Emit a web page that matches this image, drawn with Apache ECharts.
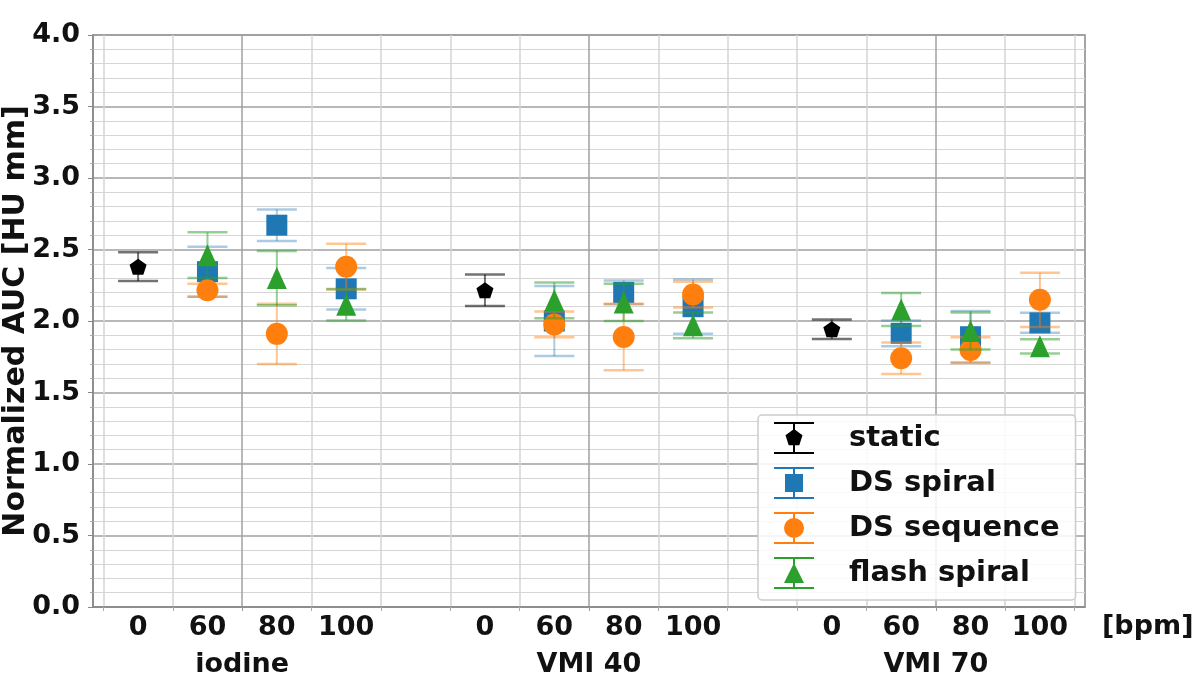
<!DOCTYPE html>
<html>
<head>
<meta charset="utf-8">
<script src="https://cdn.jsdelivr.net/npm/echarts@6/dist/echarts.min.js"></script>
<style>html,body{margin:0;padding:0;background:#fff;}#c{width:1200px;height:689px;}</style>
</head>
<body>
<div id="c"></div>
<script>
// ---- data ----
const groups = ['iodine', 'VMI 40', 'VMI 70'];
const bpmLabels = ['0', '60', '80', '100'];
const motionBpm = ['60', '80', '100'];
const yTicks = [0, 0.5, 1, 1.5, 2, 2.5, 3, 3.5, 4];

// static phantom (0 bpm) per group
const staticVal = [2.38, 2.215, 1.943];
const staticErr = [0.10, 0.11, 0.068];

// per group: 60, 80, 100 bpm
const dsSpiralVal = [2.345, 2.67, 2.225, 2.00, 2.20, 2.10, 1.914, 1.89, 1.987];
const dsSpiralErr = [0.175, 0.11, 0.145, 0.245, 0.083, 0.19, 0.09, 0.18, 0.07];

const dsSeqVal = [2.215, 1.91, 2.38, 1.976, 1.888, 2.185, 1.74, 1.797, 2.148];
const dsSeqErr = [0.045, 0.21, 0.16, 0.09, 0.232, 0.09, 0.11, 0.09, 0.19];

const flashVal = [2.46, 2.30, 2.114, 2.145, 2.13, 1.97, 2.08, 1.93, 1.823];
const flashErr = [0.16, 0.19, 0.11, 0.125, 0.13, 0.09, 0.115, 0.13, 0.05];

// ---- positions on the x axis (group g, bpm index j) ----
const slot = (g, j) => g * 5 + j + 1;
const staticData = staticVal.map((v, g) => [slot(g, 0), v, staticErr[g]]);
const motionData = (vals, errs) => vals.map((v, i) => [slot(Math.floor(i / 3), (i % 3) + 1), v, errs[i]]);

const labelPos = [];
groups.forEach((g, gi) => bpmLabels.forEach((b, j) => labelPos.push(slot(gi, j))));
const groupPos = groups.map((g, gi) => slot(gi, 0) + 1.5);
const gridPos = [];
for (let k = 0; k < 15; k++) gridPos.push(k + 0.5);
const gridMinor = gridPos.filter(v => groupPos.indexOf(v) < 0);

const FONT = 'DejaVu Sans';

function errRender(color) {
  return function (params, api) {
    const x = api.value(0), y = api.value(1), e = api.value(2);
    const top = api.coord([x, y + e]);
    const bot = api.coord([x, y - e]);
    const hw = 20;
    return {
      type: 'group',
      children: [
        { type: 'line', shape: { x1: top[0], y1: top[1], x2: bot[0], y2: bot[1] }, style: { stroke: color, lineWidth: 2 } },
        { type: 'line', shape: { x1: top[0] - hw, y1: top[1], x2: top[0] + hw, y2: top[1] }, style: { stroke: color, lineWidth: 2.5 } },
        { type: 'line', shape: { x1: bot[0] - hw, y1: bot[1], x2: bot[0] + hw, y2: bot[1] }, style: { stroke: color, lineWidth: 2.5 } }
      ]
    };
  };
}

const seriesDefs = [
  { name: 'static', data: staticData, color: '#000000', ecolor: 'rgba(0,0,0,0.55)',
    symbol: 'path://M20 8 L27.61 13.53 L24.70 22.47 L15.30 22.47 L12.39 13.53 Z', size: [17, 16],
    icon: 'path://M0 0 H40 V2 H0 Z M0 30 H40 V32 H0 Z M19 2 H21 V30 H19 Z M20 7 L28.5 13.2 L25.3 23.2 L14.7 23.2 L11.5 13.2 Z' },
  { name: 'DS spiral', data: motionData(dsSpiralVal, dsSpiralErr), color: '#1f77b4', ecolor: 'rgba(31,119,180,0.38)',
    symbol: 'rect', size: 21,
    icon: 'path://M0 0 H40 V2 H0 Z M0 30 H40 V32 H0 Z M19 2 H21 V30 H19 Z M11 7 H29 V25 H11 Z' },
  { name: 'DS sequence', data: motionData(dsSeqVal, dsSeqErr), color: '#ff7f0e', ecolor: 'rgba(255,127,14,0.45)',
    symbol: 'circle', size: 22,
    icon: 'path://M0 0 H40 V2 H0 Z M0 30 H40 V32 H0 Z M19 2 H21 V30 H19 Z M30 16 A10 10 0 1 1 10 16 A10 10 0 1 1 30 16 Z' },
  { name: 'flash spiral', data: motionData(flashVal, flashErr), color: '#2ca02c', ecolor: 'rgba(44,160,44,0.5)',
    symbol: 'triangle', size: [20, 22],
    icon: 'path://M0 0 H40 V2 H0 Z M0 30 H40 V32 H0 Z M19 2 H21 V30 H19 Z M20 6 L30 26 L10 26 Z' }
];

const series = [];
seriesDefs.forEach((s, i) => {
  series.push({
    name: s.name + ' error', type: 'custom', xAxisIndex: 0, yAxisIndex: 0,
    renderItem: errRender(s.ecolor), data: s.data, encode: { x: 0, y: 1 },
    z: 10 + i * 2, silent: true
  });
  series.push({
    name: s.name, type: 'scatter', xAxisIndex: 0, yAxisIndex: 0,
    data: s.data.map(d => [d[0], d[1]]), symbol: s.symbol, symbolSize: s.size,
    itemStyle: { color: s.color, opacity: 1 }, z: 11 + i * 2
  });
});

const chart = echarts.init(document.getElementById('c'), null, { renderer: 'canvas' });
chart.setOption({
  animation: false,
  backgroundColor: '#ffffff',
  grid: { left: 93, right: 115, top: 35, bottom: 82, show: true, borderColor: '#888', borderWidth: 1.5,
    containLabel: false, outerBoundsMode: 'none' },
  legend: {
    orient: 'vertical', left: 758, top: 415,
    padding: [7, 16, 11, 16], itemGap: 13, itemWidth: 40, itemHeight: 32,
    backgroundColor: 'rgba(255,255,255,0.85)', borderColor: '#cccccc', borderWidth: 1.5, borderRadius: 4,
    textStyle: { fontFamily: FONT, fontWeight: 'bold', fontSize: 29, color: '#111', padding: [0, 0, 0, 30] },
    data: seriesDefs.map(s => ({ name: s.name, icon: s.icon, itemStyle: { color: s.color } })),
    selectedMode: false, z: 50
  },
  xAxis: [
    {
      type: 'value', min: 0.35, max: 14.65, position: 'bottom',
      axisLine: { show: true, lineStyle: { color: '#888', width: 1.5 } },
      axisTick: { show: true, customValues: gridMinor, length: 4, lineStyle: { color: '#aaa' } },
      axisLabel: { customValues: labelPos, margin: 7, fontFamily: FONT, fontWeight: 'bold', fontSize: 27, color: '#111',
        formatter: v => bpmLabels[Math.round(v - 1) % 5] },
      splitLine: { show: true, lineStyle: { color: '#d4d4d4', width: 1.5 } },
      name: '[bpm]', nameLocation: 'end', nameGap: 17, nameMoveOverlap: false,
      nameTextStyle: { fontFamily: FONT, fontWeight: 'bold', fontSize: 27, color: '#111', verticalAlign: 'top', padding: [6, 0, 0, 0] }
    },
    {
      type: 'value', min: 0.35, max: 14.65, position: 'bottom',
      axisLine: { show: false },
      axisTick: { show: true, customValues: groupPos, length: 4, lineStyle: { color: '#999' } },
      axisLabel: { customValues: groupPos, margin: 44, fontFamily: FONT, fontWeight: 'bold', fontSize: 27, color: '#111',
        formatter: v => groups[Math.round((v - 2.5) / 5)] },
      splitLine: { show: true, lineStyle: { color: '#a0a0a0', width: 1.5 } }
    }
  ],
  yAxis: [{
    type: 'value', min: 0, max: 4, interval: 0.5,
    axisLine: { show: true, lineStyle: { color: '#888', width: 1.5 } },
    axisTick: { show: true, length: 5, lineStyle: { color: '#888' } },
    minorTick: { show: true, splitNumber: 5, length: 3, lineStyle: { color: '#aaa' } },
    axisLabel: { margin: 13, fontFamily: FONT, fontWeight: 'bold', fontSize: 27, color: '#111',
      customValues: yTicks, formatter: v => v.toFixed(1) },
    splitLine: { show: true, lineStyle: { color: '#a0a0a0', width: 1.5 } },
    minorSplitLine: { show: true, lineStyle: { color: '#d6d6d6', width: 1.2 } },
    name: 'Normalized AUC [HU mm]', nameLocation: 'middle', nameGap: 62, nameRotate: 90, nameMoveOverlap: false,
    nameTextStyle: { fontFamily: FONT, fontWeight: 'bold', fontSize: 30, color: '#111' }
  }],
  series: series
});
</script>
</body>
</html>
